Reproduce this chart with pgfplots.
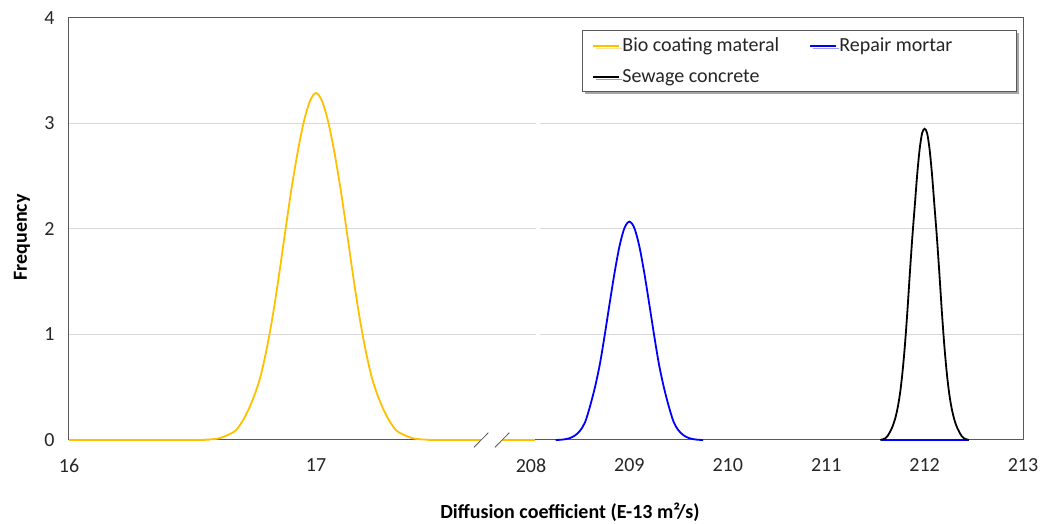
\documentclass[border=0pt]{standalone}
\usepackage{fontspec}
\setmainfont{Carlito}
\usepackage{pgfplots}
\pgfplotsset{compat=1.18}
\usetikzlibrary{shadows}
\definecolor{bioyellow}{HTML}{FFC000}
\definecolor{gridgray}{HTML}{D9D9D9}
\definecolor{framegray}{HTML}{595959}
\definecolor{textgray}{HTML}{262626}

\begin{document}
\begin{tikzpicture}
\path[use as bounding box] (-69pt,-84pt) rectangle (972pt,440pt);
\begin{axis}[
  at={(0pt,0pt)}, anchor=south west,
  scale only axis, width=954pt, height=422pt,
  xmin=0, xmax=954, ymin=0, ymax=4,
  clip=false,
  axis line style={framegray, line width=1pt},
  major tick length=0pt,
  ytick={0,1,2,3,4},
  xtick={0,247,462,560.4,658.8,757.2,855.6,954},
  xticklabels={16,17,208,209,210,211,212,213},
  ymajorgrids,
  major grid style={gridgray, line width=1pt},
  tick label style={font=\fontsize{20}{24}\selectfont, text=textgray},
  /pgf/number format/assume math mode=true,
  xticklabel style={yshift=-15pt},
  yticklabel style={xshift=-11pt},
  xlabel={Diffusion coefficient (E-13 m²/s)},
  xlabel style={at={([yshift=-72pt]axis description cs:0.525,0)}, anchor=center, font=\bfseries\fontsize{20}{24}\selectfont, text=black},
  ylabel={Frequency},
  ylabel style={at={([xshift=-47pt]axis description cs:0,0.48)}, anchor=center, font=\bfseries\fontsize{20}{24}\selectfont, text=black},
  legend columns=2,
  legend cell align=left,
  legend image code/.code={\draw[#1, line width=2pt] (0pt,0pt) -- (26pt,0pt);},
  legend style={at={(axis description cs:0.5377,0.9716)}, anchor=north west,
    draw=framegray, line width=0.8pt, fill=white,
    font=\fontsize{20}{24}\selectfont, text=textgray,
    nodes={inner sep=2pt},
    inner xsep=10pt, inner ysep=5.5pt,
    row sep=12pt,
    /tikz/every even column/.append style={column sep=28pt},
    drop shadow={shadow xshift=3pt, shadow yshift=-3pt, fill=black, opacity=0.35}},
]
% Bio coating material
\addplot[bioyellow, line width=1.8pt, smooth] table[x expr={(\thisrow{x}-16)*247}, y=y] {
x y
16.00 0
16.50 0
16.55 0.003
16.60 0.012
16.625 0.03
16.65 0.055
16.675 0.09
16.70 0.17
16.725 0.28
16.75 0.42
16.775 0.60
16.80 0.86
16.825 1.18
16.85 1.56
16.875 1.97
16.90 2.37
16.925 2.72
16.95 3.01
16.975 3.21
17.00 3.29
17.025 3.21
17.05 3.01
17.075 2.72
17.10 2.37
17.125 1.97
17.15 1.56
17.175 1.18
17.20 0.86
17.225 0.60
17.25 0.42
17.275 0.28
17.30 0.17
17.325 0.09
17.35 0.055
17.375 0.03
17.40 0.012
17.45 0.003
17.50 0
17.886 0
};
\addlegendentry{Bio coating materal}
% Repair mortar
\addplot[blue, line width=1.8pt, smooth, unbounded coords=jump] table[x expr={462+(\thisrow{x}-208)*98.4}, y=y] {
x y
208.25 0
208.30 0.002
208.35 0.008
208.40 0.02
208.45 0.045
208.50 0.09
208.55 0.17
208.60 0.32
208.65 0.50
208.70 0.72
208.75 1.00
208.80 1.30
208.85 1.59
208.90 1.84
208.95 2.01
209.00 2.07
209.05 2.01
209.10 1.84
209.15 1.59
209.20 1.30
209.25 1.00
209.30 0.72
209.35 0.50
209.40 0.32
209.45 0.17
209.50 0.09
209.55 0.045
209.60 0.02
209.65 0.008
209.70 0.002
209.75 0
210.50 nan
211.56 0
212.44 0
};
\addlegendentry{Repair mortar\hspace*{52pt}}
% Sewage concrete
\addplot[black, line width=1.8pt, smooth] table[x expr={462+(\thisrow{x}-208)*98.4}, y=y] {
x y
211.55 0
211.60 0.015
211.625 0.04
211.65 0.08
211.675 0.13
211.70 0.20
211.725 0.30
211.75 0.44
211.775 0.64
211.80 0.90
211.825 1.22
211.85 1.58
211.875 1.92
211.90 2.22
211.925 2.52
211.95 2.76
211.975 2.91
212.00 2.95
212.025 2.91
212.05 2.76
212.075 2.52
212.10 2.22
212.125 1.92
212.15 1.58
212.175 1.22
212.20 0.90
212.225 0.64
212.25 0.44
212.275 0.30
212.30 0.20
212.325 0.13
212.35 0.08
212.375 0.04
212.40 0.015
212.45 0
};
\addlegendentry{Sewage concrete}
% gap in gridlines between the two parts
\fill[white] (axis cs:466.5,0.05) rectangle (axis cs:471,3.95);
% axis break marks
\fill[white] (axis cs:405,-0.069) -- (axis cs:419.3,0.069) -- (axis cs:440.3,0.069) -- (axis cs:426,-0.069) -- cycle;
\draw[framegray, line width=0.8pt] (axis cs:405,-0.069) -- (axis cs:419.3,0.069);
\draw[framegray, line width=0.8pt] (axis cs:426,-0.069) -- (axis cs:440.3,0.069);
\end{axis}
\end{tikzpicture}
\end{document}
